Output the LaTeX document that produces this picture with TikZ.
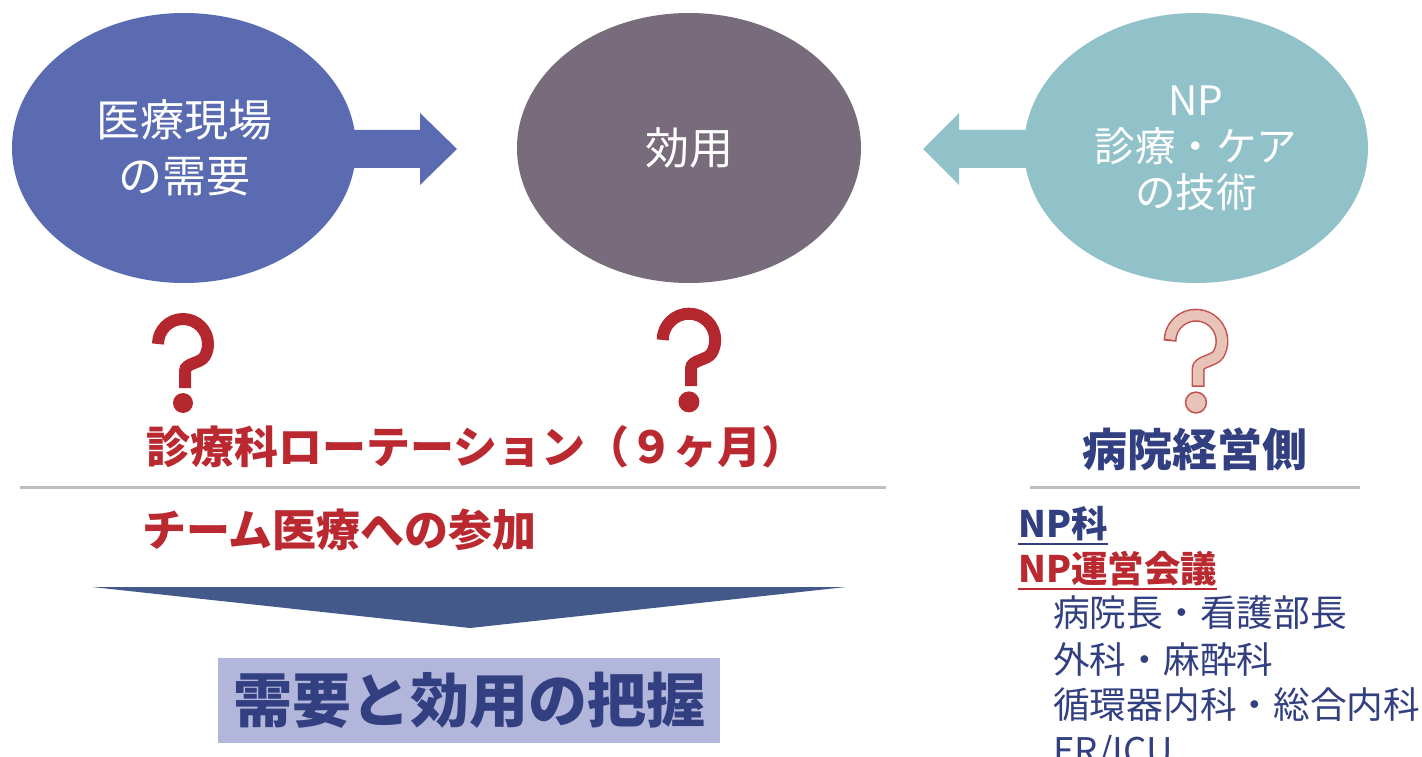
\documentclass[tikz,border=0pt]{standalone}
\usepackage{fontspec}
\setmainfont{Noto Sans CJK JP}
\usetikzlibrary{shapes.geometric,calc}
\definecolor{cleft}{HTML}{5A6BB2}
\definecolor{cmid}{HTML}{786C7C}
\definecolor{cright}{HTML}{92C2C9}
\definecolor{tred}{HTML}{BA2830}
\definecolor{qred}{HTML}{B5272E}
\definecolor{qpink}{HTML}{E8C4B8}
\definecolor{qline}{HTML}{C4504F}
\definecolor{navy}{HTML}{323F80}
\definecolor{trinavy}{HTML}{42598A}
\definecolor{boxc}{HTML}{B2B6DB}
\definecolor{rulegray}{HTML}{BEBEBE}
\tikzset{
  bubble/.style={ellipse, minimum width=344, minimum height=270, inner sep=0, text=white, align=center},
  redhead/.style={text=tred, font=\fontsize{44}{48}\selectfont\bfseries, inner sep=0},
  navyhead/.style={text=navy, font=\fontsize{45}{48}\selectfont\bfseries, inner sep=0},
  listitem/.style={text=navy, font=\fontsize{36.7}{44}\selectfont, inner sep=0, anchor=base west},
  listhead/.style={font=\fontsize{36.5}{44}\selectfont\bfseries, inner sep=0, anchor=base west},
  rule/.style={draw=rulegray, line width=3},
  qstroke/.style={line width=12, line cap=butt},
}
\begin{document}
\begin{tikzpicture}[x=1pt,y=-1pt]
\useasboundingbox (0,0) rectangle (1422,757);
% bubbles
\node[bubble, fill=cleft, font=\fontsize{44}{56}\selectfont] (need) at (184,148) {医療現場\\の需要};
\node[bubble, fill=cmid, font=\fontsize{44}{56}\selectfont] (util) at (689,148) {効用};
\node[bubble, fill=cright, font=\fontsize{40.5}{46}\selectfont] (skill) at (1196,148) {NP\\診療・ケア\\の技術};
% block arrows
\fill[cleft] ($(need.center)+(150,-18)$) -- (420,130) -- (420,113) -- (457,149) -- (420,185) -- (420,168) -- ($(need.center)+(150,20)$) -- cycle;
\fill[cright] ($(skill.center)+(-150,-18)$) -- (959,130) -- (959,113) -- (923,149) -- (959,185) -- (959,168) -- ($(skill.center)+(-150,20)$) -- cycle;
% question marks
\begin{scope}[shift={(184,365)}]
  \draw[qred, qstroke] (-26,-21) arc[start angle=180, end angle=390, radius=25]
    .. controls (16.6,-1.6) and (1,-2) .. (1,6) -- (1,23);
  \fill[qred] (-1,38) circle (10);
\end{scope}
\begin{scope}[shift={(690,362)}, scale=1.05]
  \draw[qred, qstroke] (-26,-21) arc[start angle=180, end angle=390, radius=25]
    .. controls (16.6,-1.6) and (1,-2) .. (1,6) -- (1,23);
  \fill[qred] (-1,38) circle (10);
\end{scope}
\begin{scope}[shift={(1197,363)}, scale=1.04]
  \draw[qline, line width=13, line cap=butt] (-26,-21) arc[start angle=180, end angle=390, radius=25]
    .. controls (16.6,-1.6) and (1,-2) .. (1,6) -- (1,23);
  \draw[qpink, line width=10, line cap=butt] (-25.94,-22.74) arc[start angle=184, end angle=390, radius=25]
    .. controls (16.6,-1.6) and (1,-2) .. (1,6) -- (1,21.5);
  \filldraw[fill=qpink, draw=qline, line width=1.5] (-1,38) circle (10);
\end{scope}
% left column
\node[redhead, anchor=west] (rot) at (146,447) {診療科ローテーション（９ヶ月）};
\coordinate (r1a) at (20,487); \coordinate (r1b) at (886,487);
\draw[rule] (r1a) -- (r1b);
\node[redhead, anchor=west] (team) at (142,530) {チーム医療への参加};
\fill[trinavy] (92,587) -- (846,587) -- (470,628) -- cycle;
\node[fill=boxc, minimum width=502, minimum height=85, inner sep=0, text=navy, font=\fontsize{59}{60}\selectfont\bfseries] (grasp) at (469,700) {需要と効用の把握};
% right column
\node[navyhead] (mgmt) at (1195,449) {病院経営側};
\coordinate (r2a) at (1030,487); \coordinate (r2b) at (1360,487);
\draw[rule] (r2a) -- (r2b);
\node[listhead, text=navy] (npdept) at (1018,537) {NP科};
\draw[navy, line width=2] ([yshift=-7]npdept.base west) -- ([yshift=-7]npdept.base east);
\node[listhead, text=tred] (npmeet) at (1018,582) {NP運営会議};
\draw[tred, line width=2] ([yshift=-7]npmeet.base west) -- ([yshift=-7]npmeet.base east);
\node[listitem] (m1) at (1053,626) {病院長・看護部長};
\node[listitem] (m2) at (1053,673) {外科・麻酔科};
\node[listitem] (m3) at (1053,718) {循環器内科・総合内科};
\node[listitem] (m4) at (1053,764) {ER/ICU};
\end{tikzpicture}
\end{document}
